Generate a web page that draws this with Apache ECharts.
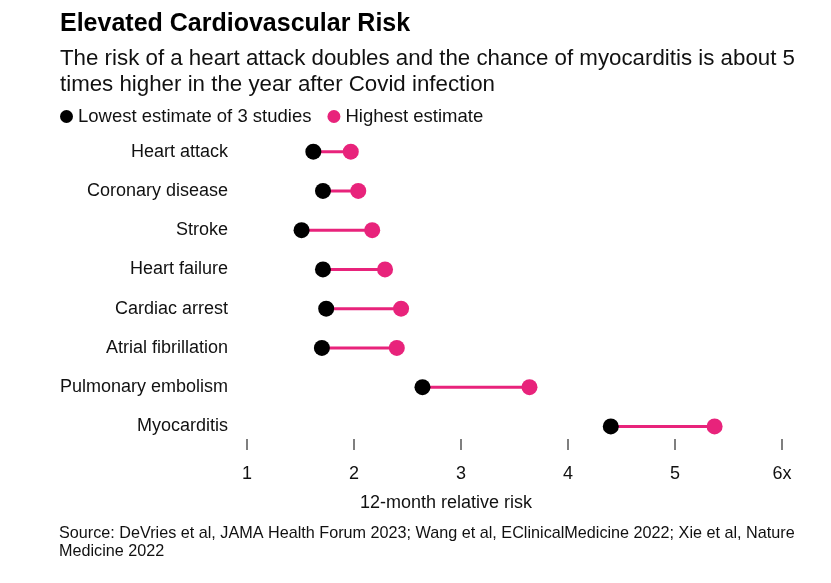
<!DOCTYPE html>
<html>
<head>
<meta charset="utf-8">
<script src="https://cdn.jsdelivr.net/npm/echarts@6/dist/echarts.min.js"></script>
<style>
  html, body { margin: 0; padding: 0; background: #fff; }
  #main { width: 831px; height: 583px; }
</style>
</head>
<body>
<div id="main"></div>
<script>
// data
var categories = ['Heart attack', 'Coronary disease', 'Stroke', 'Heart failure',
  'Cardiac arrest', 'Atrial fibrillation', 'Pulmonary embolism', 'Myocarditis'];
var lowest = [1.62, 1.71, 1.51, 1.71, 1.74, 1.70, 2.64, 4.40];
var highest = [1.97, 2.04, 2.17, 2.29, 2.44, 2.40, 3.64, 5.37];
var tickLabels = ['1', '2', '3', '4', '5', '6x'];

var PINK = '#e8237b';
var FONT = 'Liberation Sans, Arial, sans-serif';

var chart = echarts.init(document.getElementById('main'));

var option = {
  animation: false,
  textStyle: { fontFamily: FONT },
  title: {
    left: 55,
    top: 7,
    text: 'Elevated Cardiovascular Risk',
    textStyle: { fontSize: 25, fontWeight: 'bold', color: '#000', fontFamily: FONT },
    subtext: 'The risk of a heart attack doubles and the chance of myocarditis is about 5\ntimes higher in the year after Covid infection',
    subtextStyle: { fontSize: 22.3, color: '#111', lineHeight: 26, fontFamily: FONT },
    itemGap: 9
  },
  legend: {
    left: 55,
    top: 102,
    icon: 'circle',
    itemWidth: 13,
    itemHeight: 13,
    itemGap: 16,
    textStyle: { fontSize: 18.5, color: '#111', fontFamily: FONT },
    data: ['Lowest estimate of 3 studies', 'Highest estimate']
  },
  grid: { left: 247, right: 49, top: 132, bottom: 137 },
  xAxis: {
    type: 'value',
    min: 1,
    max: 6,
    interval: 1,
    offset: -7,
    axisLine: { show: false },
    splitLine: { show: false },
    axisTick: { show: true, inside: false, length: 11, lineStyle: { color: '#555', width: 1.5 } },
    axisLabel: {
      margin: 26,
      fontSize: 18,
      color: '#111',
      formatter: function (v) { return tickLabels[v - 1]; }
    }
  },
  yAxis: {
    type: 'category',
    data: categories,
    inverse: true,
    axisLine: { show: false },
    axisTick: { show: false },
    axisLabel: { margin: 19, fontSize: 18, color: '#111' }
  },
  graphic: [
    {
      type: 'text', left: 360, top: 494,
      style: { text: '12-month relative risk', fontSize: 18, fill: '#111', fontFamily: FONT }
    },
    {
      type: 'text', left: 59, top: 525,
      style: {
        text: 'Source: DeVries et al, JAMA Health Forum 2023; Wang et al, EClinicalMedicine 2022; Xie et al, Nature\nMedicine 2022',
        fontSize: 16.2, lineHeight: 18, fill: '#111', fontFamily: FONT
      }
    }
  ],
  series: [
    {
      type: 'custom',
      name: 'range',
      silent: true,
      data: categories.map(function (c, i) { return [lowest[i], highest[i], i]; }),
      renderItem: function (params, api) {
        var a = api.coord([api.value(0), api.value(2)]);
        var b = api.coord([api.value(1), api.value(2)]);
        return {
          type: 'line',
          shape: { x1: a[0], y1: a[1], x2: b[0], y2: b[1] },
          style: { stroke: PINK, lineWidth: 3 }
        };
      },
      z: 1
    },
    {
      type: 'scatter',
      name: 'Lowest estimate of 3 studies',
      symbolSize: 16,
      itemStyle: { color: '#000', opacity: 1 },
      data: categories.map(function (c, i) { return [lowest[i], c]; }),
      z: 3
    },
    {
      type: 'scatter',
      name: 'Highest estimate',
      symbolSize: 16,
      itemStyle: { color: PINK, opacity: 1 },
      data: categories.map(function (c, i) { return [highest[i], c]; }),
      z: 3
    }
  ]
};

chart.setOption(option);
</script>
</body>
</html>
